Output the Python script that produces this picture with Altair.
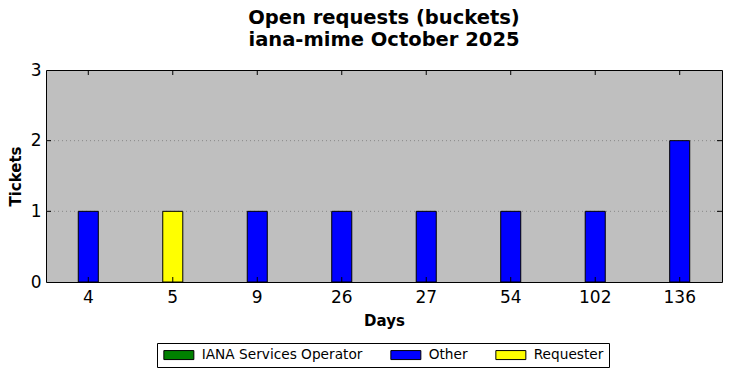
import altair as alt
import pandas as pd

days = ["4", "5", "9", "26", "27", "54", "102", "136"]
tickets = [1, 1, 1, 1, 1, 1, 1, 2]
groups = ["Other", "Requester", "Other", "Other", "Other", "Other", "Other", "Other"]
legend_names = ["IANA Services Operator", "Other", "Requester"]
legend_colors = ["#008000", "#0000ff", "#ffff00"]
y_ticks = [0, 1, 2, 3]

df = pd.DataFrame({"Days": days, "Tickets": tickets, "Group": groups})
ydf = pd.DataFrame({"v": y_ticks[1:-1]})

xscale = alt.Scale(domain=days, paddingInner=0.763, paddingOuter=0.382)
yscale = alt.Scale(domain=[0, 3], nice=False)

grid = alt.Chart(ydf).mark_rule(color="#888888", strokeWidth=1, strokeDash=[1, 3]).encode(
    y=alt.Y("v:Q", scale=yscale),
    x=alt.value(0), x2=alt.value(676),
)

bars = alt.Chart(df).mark_bar(stroke="black", strokeWidth=1).encode(
    x=alt.X("Days:N", scale=xscale, sort=days,
            axis=alt.Axis(title="Days", labelAngle=0, ticks=False, labelPadding=7,
                          titlePadding=8, titleFontSize=15, titleFontWeight="bold",
                          labelFontSize=17, domain=False, grid=False)),
    y=alt.Y("Tickets:Q", scale=yscale,
            axis=alt.Axis(title="Tickets", values=y_ticks, format="d", ticks=False,
                          labelPadding=5, titlePadding=7, titleFontSize=15,
                          titleFontWeight="bold", labelFontSize=17, domain=False,
                          grid=False)),
    color=alt.Color("Group:N",
                    scale=alt.Scale(domain=legend_names, range=legend_colors),
                    legend=alt.Legend(title=None, orient="none", legendX=111, legendY=273,
                                      direction="horizontal", columns=3,
                                      symbolType="M-1,-0.9H5V0.9H-1Z",
                                      symbolSize=100, symbolStrokeColor="black",
                                      symbolStrokeWidth=1, symbolOpacity=1,
                                      labelOffset=26, labelFontSize=13.7, labelLimit=400,
                                      columnPadding=25,
                                      padding=5, strokeColor="black", fillColor="white",
                                      labelColor="black")),
)

top_ticks = alt.Chart(df).mark_rule(color="black", strokeWidth=1).encode(
    x=alt.X("Days:N", scale=xscale, sort=days),
    y=alt.value(0), y2=alt.value(5),
)
bot_ticks = alt.Chart(df).mark_rule(color="black", strokeWidth=1).encode(
    x=alt.X("Days:N", scale=xscale, sort=days),
    y=alt.value(207), y2=alt.value(212),
)
left_ticks = alt.Chart(ydf).mark_rule(color="black", strokeWidth=1).encode(
    y=alt.Y("v:Q", scale=yscale),
    x=alt.value(0), x2=alt.value(5),
)
right_ticks = alt.Chart(ydf).mark_rule(color="black", strokeWidth=1).encode(
    y=alt.Y("v:Q", scale=yscale),
    x=alt.value(671), x2=alt.value(676),
)

chart = alt.layer(grid, bars, top_ticks, bot_ticks, left_ticks, right_ticks).properties(
    width=676, height=212,
    title=alt.Title(["Open requests (buckets)", "iana-mime October 2025"],
                    fontSize=19.5, fontWeight="bold", anchor="middle", offset=11,
                    lineHeight=22, color="black"),
    autosize=alt.AutoSizeParams(type="none"),
    padding={"left": 46, "top": 70, "right": 9, "bottom": 96},
).configure(font="DejaVu Sans", background="white").configure_view(
    fill="#bfbfbf", stroke="black", strokeWidth=1
).configure_axis(labelColor="black", titleColor="black")

chart.save("out.html", embed_options={"renderer": "svg", "actions": False})
